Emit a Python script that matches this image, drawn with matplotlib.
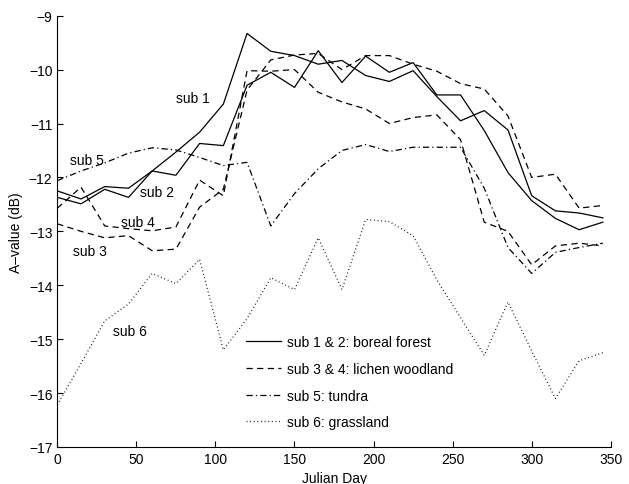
import matplotlib
matplotlib.use("Agg")
import matplotlib.pyplot as plt

plt.rcParams['font.family'] = ['Liberation Sans', 'DejaVu Sans']
plt.rcParams['font.size'] = 10

days = [0, 15, 30, 45, 60, 75, 90, 105, 120, 135, 150, 165,
        180, 195, 210, 225, 240, 255, 270, 285, 300, 315, 330, 345]

sub1 = [-12.25, -12.40, -12.17, -12.20, -11.88, -11.53, -11.16, -10.64, -9.33, -9.66, -9.74, -9.90,
        -9.83, -10.11, -10.22, -10.02, -10.50, -10.95, -10.76, -11.12, -12.34, -12.62, -12.66, -12.75]
sub2 = [-12.37, -12.49, -12.22, -12.37, -11.88, -11.96, -11.37, -11.41, -10.29, -10.05, -10.33, -9.65,
        -10.24, -9.75, -10.05, -9.87, -10.47, -10.47, -11.13, -11.91, -12.43, -12.76, -12.97, -12.83]
sub3 = [-12.86, -13.00, -13.12, -13.08, -13.36, -13.33, -12.55, -12.22, -10.38, -9.82, -9.73, -9.70,
        -10.00, -9.74, -9.74, -9.90, -10.03, -10.26, -10.36, -10.86, -12.00, -11.94, -12.57, -12.52]
sub4 = [-12.57, -12.18, -12.90, -12.95, -12.99, -12.92, -12.05, -12.34, -10.02, -10.03, -10.00, -10.42,
        -10.60, -10.73, -11.00, -10.89, -10.84, -11.30, -12.83, -13.00, -13.62, -13.27, -13.22, -13.27]
sub5 = [-12.06, -11.88, -11.73, -11.55, -11.45, -11.49, -11.63, -11.78, -11.72, -12.90, -12.30, -11.84,
        -11.50, -11.39, -11.52, -11.44, -11.44, -11.44, -12.20, -13.30, -13.78, -13.39, -13.30, -13.22]
sub6 = [-16.22, -15.45, -14.66, -14.35, -13.78, -13.97, -13.52, -15.20, -14.62, -13.86, -14.08, -13.12,
        -14.08, -12.78, -12.82, -13.08, -13.90, -14.60, -15.30, -14.31, -15.22, -16.10, -15.40, -15.25]

legend_labels = ["sub 1 & 2: boreal forest", "sub 3 & 4: lichen woodland",
                 "sub 5: tundra", "sub 6: grassland"]
x_ticks = [0, 50, 100, 150, 200, 250, 300, 350]
y_ticks = [-17, -16, -15, -14, -13, -12, -11, -10, -9]

fig = plt.figure(figsize=(6.29, 4.85), dpi=100)
ax = fig.add_axes([0.0911, 0.0763, 0.8799, 0.8893])

lw = 0.9
solid = '-'
dashed = (0, (5, 3.5))
dashdot = (0, (5, 2.5, 1, 2.5))
dotted = (0, (0.7, 2.2))

l1, = ax.plot(days, sub1, color='black', lw=lw, ls=solid)
ax.plot(days, sub2, color='black', lw=lw, ls=solid)
l2, = ax.plot(days, sub3, color='black', lw=lw, ls=dashed)
ax.plot(days, sub4, color='black', lw=lw, ls=dashed)
l3, = ax.plot(days, sub5, color='black', lw=lw, ls=dashdot)
l4, = ax.plot(days, sub6, color='black', lw=lw, ls=dotted)

ax.text(75, -10.53, "sub 1", va='center', ha='left')
ax.text(52, -12.27, "sub 2", va='center', ha='left')
ax.text(10, -13.36, "sub 3", va='center', ha='left')
ax.text(40, -12.83, "sub 4", va='center', ha='left')
ax.text(8, -11.68, "sub 5", va='center', ha='left')
ax.text(35, -14.84, "sub 6", va='center', ha='left')

ax.set_xlim(0, 350)
ax.set_ylim(-17, -9)
ax.set_xticks(x_ticks)
ax.set_yticks(y_ticks)
ax.spines['top'].set_visible(False)
ax.spines['right'].set_visible(False)
ax.tick_params(direction='in', length=4, width=0.8, labelsize=10)
ax.set_xlabel("Julian Day", labelpad=4)
ax.set_ylabel("A\u2013value (dB)", labelpad=4)

fig.legend([l1, l2, l3, l4], legend_labels, loc='upper left',
           bbox_to_anchor=(246 / 629, 1 - 336 / 485), frameon=False,
           borderpad=0, borderaxespad=0, handlelength=2.5, handletextpad=0.45,
           labelspacing=0.92, fontsize=10)

fig.savefig("out.png", dpi=100)
